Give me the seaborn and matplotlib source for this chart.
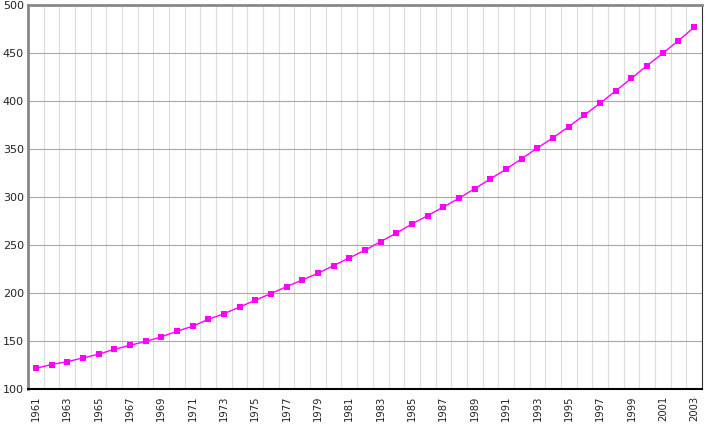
import numpy as np
import pandas as pd
import matplotlib
matplotlib.use('Agg')
import matplotlib.pyplot as plt
import seaborn as sns

# values
years = list(range(1961, 2004))
population = [121.5, 125.5, 128.5, 132.3, 136.2, 141.3, 145.5, 149.5, 154.3, 160.1,
              165.4, 172.5, 178.4, 185.4, 192.5, 199.4, 206.6, 213.6, 220.6, 228.5,
              236.6, 244.6, 253.5, 262.5, 271.9, 280.6, 289.6, 298.7, 308.7, 318.8,
              329.0, 340.0, 351.0, 361.8, 373.3, 385.4, 397.7, 410.6, 423.7, 436.9,
              449.8, 462.9, 476.9]
y_ticks = [100, 150, 200, 250, 300, 350, 400, 450, 500]
x_labels = list(range(1961, 2004, 2))

df = pd.DataFrame({'year': years, 'population': population})

sns.set_style('white')
plt.rcParams['font.family'] = ['DejaVu Sans']

fig = plt.figure(figsize=(7.24, 4.26), dpi=100)
ax = fig.add_axes([28 / 724, 37 / 426, 674 / 724, 384 / 426])

# light vertical grid between the years, darker horizontal grid
for x in np.arange(1961.5, 2003.5, 1):
    ax.axvline(x, color='#dcdcdc', lw=0.8, zorder=0)
for y in y_ticks[1:-1]:
    ax.axhline(y, color='#a8a8a8', lw=0.8, zorder=0)

sns.lineplot(data=df, x='year', y='population', ax=ax, color='#ff00ff',
             lw=1.0, marker='s', markersize=5, markeredgewidth=0, zorder=3)

ax.set_xlim(1960.5, 2003.5)
ax.set_ylim(100, 500)
ax.set_yticks(y_ticks)
ax.set_yticklabels([str(v) for v in y_ticks], fontsize=8, color='#222222')
ax.set_xticks(x_labels)
ax.set_xticklabels([str(v) for v in x_labels], rotation=90, fontsize=7.2, color='#222222')
ax.set_xticks(np.arange(1960.5, 2004, 1), minor=True)
ax.tick_params(axis='x', which='major', length=0, pad=5)
ax.tick_params(axis='x', which='minor', length=3, width=0.6, color='#555555')
ax.tick_params(axis='y', length=0, pad=3)
ax.set_xlabel('')
ax.set_ylabel('')

for side in ['left', 'top']:
    ax.spines[side].set_color('#888888')
    ax.spines[side].set_linewidth(2)
ax.spines['bottom'].set_color('black')
ax.spines['bottom'].set_linewidth(1.5)
ax.spines['right'].set_color('#333333')
ax.spines['right'].set_linewidth(0.8)

fig.savefig('out.png', dpi=100)
